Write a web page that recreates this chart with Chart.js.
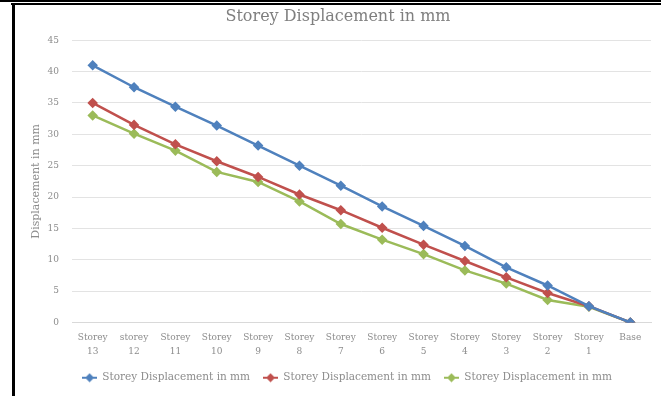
<!DOCTYPE html>
<html>
<head>
<meta charset="utf-8">
<script src="https://cdn.jsdelivr.net/npm/chart.js@4/dist/chart.umd.min.js"></script>
<style>
  html, body { margin: 0; padding: 0; background: #fff; }
  body { width: 661px; height: 396px; position: relative; overflow: hidden; }
  .rule-top { position: absolute; left: 0; top: 0; width: 661px; height: 2px; background: #000; }
  .rule-inner { position: absolute; left: 11px; top: 3px; width: 650px; height: 2px; background: #000; }
  .rule-left { position: absolute; left: 12px; top: 3px; width: 3px; height: 393px; background: #000; }
  #wrap { position: absolute; left: 15px; top: 5px; width: 646px; height: 391px; }
</style>
</head>
<body>
<div class="rule-top"></div>
<div class="rule-inner"></div>
<div class="rule-left"></div>
<div id="wrap"><canvas id="chart"></canvas></div>
<script>
// Storey levels from top floor down to the base
const storeys = [
  ["Storey", "13"], ["storey", "12"], ["Storey", "11"], ["Storey", "10"],
  ["Storey", "9"], ["Storey", "8"], ["Storey", "7"], ["Storey", "6"],
  ["Storey", "5"], ["Storey", "4"], ["Storey", "3"], ["Storey", "2"],
  ["Storey", "1"], "Base"
];

// Lateral displacement at each level (mm)
const displacementA = [41.0, 37.5, 34.4, 31.4, 28.2, 25.0, 21.8, 18.5, 15.4, 12.2, 8.8, 5.9, 2.6, 0];
const displacementB = [35.0, 31.5, 28.4, 25.7, 23.2, 20.4, 17.9, 15.1, 12.4, 9.8, 7.2, 4.7, 2.6, 0];
const displacementC = [33.0, 30.1, 27.4, 24.0, 22.4, 19.3, 15.7, 13.2, 10.9, 8.3, 6.2, 3.6, 2.5, 0];

const seriesName = "Storey Displacement in mm";
const yTicks = { min: 0, max: 45, step: 5 };

const FONT = "'DejaVu Serif', 'Liberation Serif', serif";
const GREY = "#8c8c8c";

// Legend key: short line segment with a diamond marker
function legendMarker(color) {
  const c = document.createElement('canvas');
  c.width = 15; c.height = 10;
  const g = c.getContext('2d');
  g.strokeStyle = color;
  g.lineWidth = 2;
  g.beginPath(); g.moveTo(0, 5); g.lineTo(15, 5); g.stroke();
  g.fillStyle = color;
  g.beginPath();
  g.moveTo(7.5, 0.5); g.lineTo(12, 5); g.lineTo(7.5, 9.5); g.lineTo(3, 5);
  g.closePath(); g.fill();
  return c;
}

// Nudge the title and legend so they sit centred over the plot area
const centreOverPlot = {
  id: 'centreOverPlot',
  afterLayout(chart) {
    if (chart.titleBlock) chart.titleBlock.left += 10;
    if (chart.legend) chart.legend.left += 28;
  }
};

function series(values, color) {
  return {
    label: seriesName,
    data: values,
    borderColor: color,
    backgroundColor: color,
    borderWidth: 2.5,
    pointStyle: 'rectRot',
    pointRadius: 3.5,
    pointHoverRadius: 3.5,
    tension: 0
  };
}

new Chart(document.getElementById('chart'), {
  type: 'line',
  data: {
    labels: storeys,
    datasets: [
      series(displacementA, '#4F81BD'),
      series(displacementB, '#C0504D'),
      series(displacementC, '#9BBB59')
    ]
  },
  plugins: [centreOverPlot],
  options: {
    responsive: true,
    maintainAspectRatio: false,
    animation: false,
    layout: { padding: { left: 0, right: 10, top: 0, bottom: 3 } },
    plugins: {
      tooltip: { enabled: false },
      title: {
        display: true,
        text: 'Storey Displacement in mm',
        color: '#7f7f7f',
        font: { family: FONT, size: 16, weight: 'normal' },
        padding: { top: 2, bottom: 14 }
      },
      legend: {
        position: 'bottom',
        labels: {
          usePointStyle: true,
          pointStyleWidth: 15,
          boxHeight: 10,
          padding: 13,
          color: GREY,
          font: { family: FONT, size: 10.5 },
          generateLabels(chart) {
            const items = Chart.defaults.plugins.legend.labels.generateLabels(chart);
            items.forEach((it, i) => {
              it.pointStyle = legendMarker(chart.data.datasets[i].borderColor);
            });
            return items;
          }
        }
      }
    },
    scales: {
      x: {
        offset: true,
        afterFit: (scale) => { scale.height = 37; },
        grid: { display: false, drawTicks: false },
        border: { display: true, color: '#d9d9d9' },
        ticks: {
          color: GREY,
          autoSkip: false,
          maxRotation: 0,
          padding: 8,
          font: { family: FONT, size: 9, lineHeight: 1.6 }
        }
      },
      y: {
        min: yTicks.min,
        max: yTicks.max,
        afterFit: (scale) => { scale.width = 57; },
        grid: { color: '#e3e3e3', drawTicks: false },
        border: { display: false },
        ticks: {
          stepSize: yTicks.step,
          color: GREY,
          padding: 13,
          font: { family: FONT, size: 9 }
        },
        title: {
          display: true,
          text: 'Displacement in mm',
          color: GREY,
          font: { family: FONT, size: 11 },
          padding: { top: 15, bottom: 0 }
        }
      }
    }
  }
});
</script>
</body>
</html>
